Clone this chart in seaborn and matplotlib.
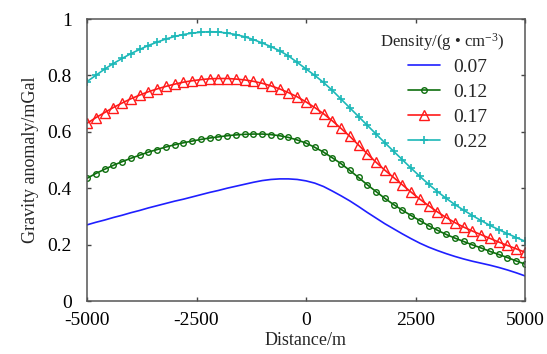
import matplotlib
matplotlib.use("Agg")
import matplotlib.pyplot as plt
import seaborn as sns
import pandas as pd

distance = [-5000, -4800, -4600, -4400, -4200, -4000, -3800, -3600, -3400, -3200,
            -3000, -2800, -2600, -2400, -2200, -2000, -1800, -1600, -1400, -1200,
            -1000, -800, -600, -400, -200, 0, 200, 400, 600, 800,
            1000, 1200, 1400, 1600, 1800, 2000, 2200, 2400, 2600, 2800,
            3000, 3200, 3400, 3600, 3800, 4000, 4200, 4400, 4600, 4800, 5000]

g_007 = [0.270, 0.279, 0.287, 0.296, 0.304, 0.313, 0.321, 0.330, 0.338, 0.346,
         0.354, 0.361, 0.369, 0.377, 0.385, 0.392, 0.400, 0.407, 0.414, 0.421,
         0.427, 0.431, 0.433, 0.433, 0.431, 0.426, 0.418, 0.406, 0.390, 0.373,
         0.355, 0.335, 0.314, 0.294, 0.274, 0.256, 0.238, 0.221, 0.205, 0.191,
         0.179, 0.168, 0.158, 0.149, 0.141, 0.134, 0.127, 0.119, 0.110, 0.100, 0.089]

g_012 = [0.435, 0.452, 0.467, 0.481, 0.494, 0.506, 0.517, 0.528, 0.537, 0.546,
         0.554, 0.561, 0.567, 0.573, 0.578, 0.582, 0.586, 0.589, 0.591, 0.592,
         0.592, 0.590, 0.586, 0.580, 0.571, 0.560, 0.545, 0.528, 0.508, 0.487,
         0.463, 0.438, 0.412, 0.388, 0.364, 0.342, 0.322, 0.303, 0.285, 0.267,
         0.251, 0.236, 0.223, 0.211, 0.199, 0.188, 0.176, 0.165, 0.154, 0.142, 0.131]

g_017 = [0.630, 0.650, 0.668, 0.686, 0.702, 0.717, 0.730, 0.742, 0.752, 0.761,
         0.769, 0.776, 0.781, 0.785, 0.788, 0.789, 0.789, 0.787, 0.784, 0.779,
         0.772, 0.763, 0.752, 0.739, 0.724, 0.706, 0.686, 0.664, 0.639, 0.612,
         0.584, 0.553, 0.522, 0.492, 0.464, 0.438, 0.412, 0.386, 0.361, 0.338,
         0.316, 0.296, 0.278, 0.262, 0.248, 0.235, 0.222, 0.209, 0.197, 0.185, 0.173]

g_022 = [0.778, 0.800, 0.822, 0.842, 0.860, 0.877, 0.892, 0.906, 0.918, 0.929,
         0.938, 0.945, 0.950, 0.953, 0.955, 0.954, 0.950, 0.945, 0.937, 0.927,
         0.915, 0.902, 0.887, 0.869, 0.846, 0.823, 0.800, 0.775, 0.747, 0.716,
         0.685, 0.654, 0.623, 0.592, 0.561, 0.531, 0.501, 0.471, 0.442, 0.414,
         0.388, 0.364, 0.342, 0.322, 0.303, 0.285, 0.268, 0.253, 0.239, 0.225, 0.212]

densities = ["0.07", "0.12", "0.17", "0.22"]
x_ticks = [-5000, -2500, 0, 2500, 5000]
y_ticks = [0, 0.2, 0.4, 0.6, 0.8, 1.0]
y_ticklabels = ["0", "0.2", "0.4", "0.6", "0.8", "1"]

sns.set_style("ticks")
plt.rcParams["font.family"] = ["Liberation Serif", "DejaVu Serif"]
plt.rcParams["mathtext.fontset"] = "custom"
plt.rcParams["mathtext.rm"] = "Liberation Serif"
plt.rcParams["mathtext.it"] = "Liberation Serif:italic"

fig = plt.figure(figsize=(5.47, 3.54), dpi=100)
ax = fig.add_axes([87 / 547, 1 - 301 / 354, 438 / 547, 282 / 354])

colors = {"0.07": "#1f1fff", "0.12": "#0e6e0e", "0.17": "#ff1a1a", "0.22": "#1cb8b8"}
marker_props = {
    "0.07": dict(marker=""),
    "0.12": dict(marker="o", markersize=4, markerfacecolor="none", markeredgewidth=1.0),
    "0.17": dict(marker="^", markersize=6.5, markerfacecolor="none", markeredgewidth=1.0),
    "0.22": dict(marker="+", markersize=6, markeredgewidth=1.2),
}
series = {"0.07": g_007, "0.12": g_012, "0.17": g_017, "0.22": g_022}

for d in densities:
    df = pd.DataFrame({"Distance": distance, "Gravity": series[d]})
    n_before = len(ax.lines)
    sns.lineplot(data=df, x="Distance", y="Gravity", ax=ax, color=colors[d],
                 linewidth=1.2, label=d)
    line = ax.lines[n_before]
    line.set_linestyle("-")
    line.set(markeredgecolor=colors[d], **marker_props[d])

ax.set_xlim(-5000, 5000)
ax.set_ylim(0, 1)
ax.set_xticks(x_ticks)
ax.set_xticklabels([str(t) for t in x_ticks])
ax.set_yticks(y_ticks)
ax.set_yticklabels(y_ticklabels)
ax.tick_params(direction="in", length=3, width=1, top=True, right=True,
               labelsize=14, colors="#444444", labelcolor="black")
ax.tick_params(axis="y", pad=11)
ax.tick_params(axis="x", pad=8)
for sp in ax.spines.values():
    sp.set_visible(True)
    sp.set_color("#555555")
    sp.set_linewidth(1.1)

ax.set_xlabel("Distance/m", fontsize=13, labelpad=2)
ax.set_ylabel("Gravity anomaly/mGal", fontsize=13, labelpad=6)

h = ax.lines[:4]
leg = ax.legend(h, densities, loc="upper left", bbox_to_anchor=(0.733, 0.86),
                frameon=False, fontsize=14, borderpad=0, borderaxespad=0,
                handlelength=1.65, handletextpad=0.65, labelspacing=0.38,
                numpoints=1)
ax.text(0.954, 0.918, "Density/(g \u2022 cm$^{-3}$)", transform=ax.transAxes,
        ha="right", va="center", fontsize=12)

fig.savefig("out.png", dpi=100)
